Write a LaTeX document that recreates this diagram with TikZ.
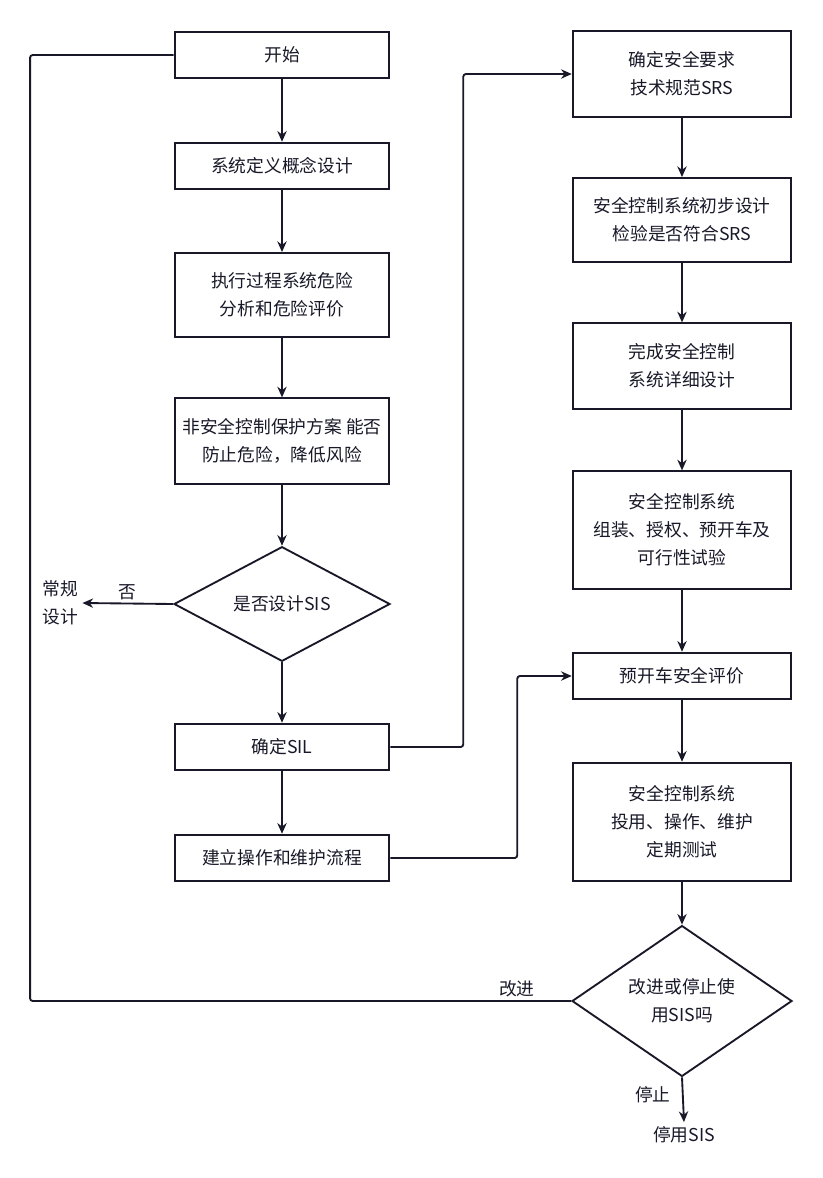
\documentclass[tikz,border=0pt]{standalone}
\usepackage{fontspec}
\setmainfont{Noto Sans CJK SC}
\usetikzlibrary{arrows.meta, shapes.geometric, positioning}
\definecolor{ink1}{RGB}{24,24,40}

\begin{document}
\begin{tikzpicture}[
    x=0.75pt, y=-0.75pt,
    every node/.style={font=\fontsize{13.3}{21}\selectfont, text=ink1, align=center},
    stepbox/.style={rectangle, draw=ink1, line width=1.4pt, minimum width=161pt, minimum height=35pt, inner sep=2pt},
    judge/.style={diamond, draw=ink1, line width=1.4pt, minimum width=162pt, minimum height=86pt, inner sep=0pt},
    myarrow/.style={-{Stealth[length=8pt, width=7pt]}, line width=1.4pt, ink1, rounded corners=2pt},
    myline/.style={line width=1.4pt, ink1, rounded corners=2pt}
]
\useasboundingbox (0,0) rectangle (823,1178);

% Left column
\node[stepbox] (start) at (282,55) {开始};
\node[stepbox] (concept) at (282,166) {系统定义概念设计};
\node[stepbox, minimum height=63pt] (hazard) at (282,295) {执行过程系统危险\\分析和危险评价};
\node[stepbox, minimum height=64pt] (nonsis) at (282,441) {非安全控制保护方案 能否\\防止危险，降低风险};
\node[judge] (judge1) at (282,604) {是否设计SIS};
\node[stepbox] (sil) at (282,747) {确定SIL};
\node[stepbox] (proc) at (282,858) {建立操作和维护流程};
\node (normal) at (60,603) {常规\\设计};

% Right column
\node[stepbox, minimum width=164pt, minimum height=64pt] (srs) at (682,74) {确定安全要求\\技术规范SRS};
\node[stepbox, minimum width=164pt, minimum height=63pt] (prelim) at (682,220) {安全控制系统初步设计\\检验是否符合SRS};
\node[stepbox, minimum width=164pt, minimum height=64pt] (detail) at (682,366) {完成安全控制\\系统详细设计};
\node[stepbox, minimum width=164pt, minimum height=88pt] (assembly) at (682,530) {安全控制系统\\组装、授权、预开车及\\可行性试验};
\node[stepbox, minimum width=164pt] (pre) at (682,676) {预开车安全评价};
\node[stepbox, minimum width=164pt, minimum height=89pt] (operate) at (682,822) {安全控制系统\\投用、操作、维护\\定期测试};
\node[judge, minimum width=165pt, minimum height=88pt] (judge2) at (682,1001) {改进或停止使\\用SIS吗};
\node (stop) at (684,1135) {停用SIS};

% Connectors, left column
\draw[myarrow] (start) -- (concept);
\draw[myarrow] (concept) -- (hazard);
\draw[myarrow] (hazard) -- (nonsis);
\draw[myarrow] (nonsis) -- (judge1);
\draw[myarrow] (judge1) -- (sil);
\draw[myarrow] (sil) -- (proc);
\draw[myarrow] (judge1.west) -- node[above=-1pt, pos=0.5] {否} (normal.east);

% Connectors, right column
\draw[myarrow] (srs) -- (prelim);
\draw[myarrow] (prelim) -- (detail);
\draw[myarrow] (detail) -- (assembly);
\draw[myarrow] (assembly) -- (pre);
\draw[myarrow] (pre) -- (operate);
\draw[myarrow] (operate) -- (judge2);
\draw[myarrow] (judge2.south) -- node[left=5pt, pos=0.38] {停止} (stop.north);

% Cross connectors
\draw[myarrow] (sil.east) -- ++(73,0) |- (srs.west);
\draw[myarrow] (proc.east) -- ++(127,0) |- (pre.west);
\draw[myline] (judge2.west) -- node[above=-1pt, pos=0.1] {改进} ++(-541,0) |- (start.west);

\end{tikzpicture}
\end{document}
